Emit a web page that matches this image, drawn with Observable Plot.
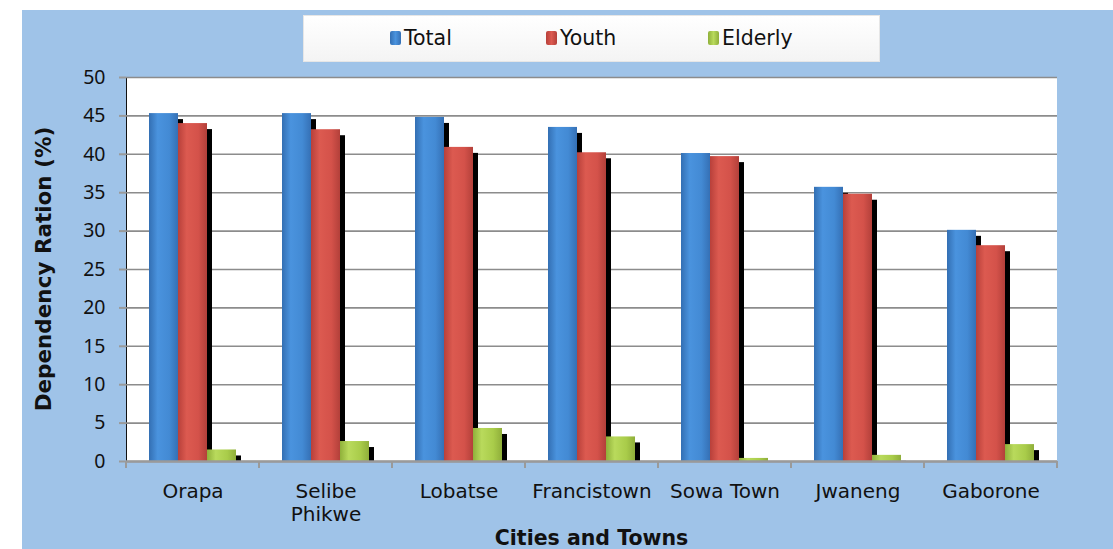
<!DOCTYPE html>
<html>
<head>
<meta charset="utf-8">
<script src="https://cdn.jsdelivr.net/npm/d3@7"></script>
<script src="https://cdn.jsdelivr.net/npm/@observablehq/plot@0.6"></script>
<style>
  html, body { margin: 0; padding: 0; background: #ffffff; }
  #wrap { position: relative; width: 1113px; height: 549px; overflow: hidden; }
  #bg { position: absolute; left: 22px; top: 10px; right: 0; bottom: 0; background: #9fc3e8; }
  #chart { position: absolute; left: 0; top: 0; }
  #legend {
    position: absolute; left: 303px; top: 15px; width: 577px; height: 47px;
    background: linear-gradient(#ffffff, #f4f4f4); border: 1px solid #e6e6e6; box-sizing: border-box;
    font-family: "DejaVu Sans", sans-serif; font-size: 20.5px; color: #111;
  }
  .item { position: absolute; top: 10px; display: flex; align-items: center; }
  .sw { width: 11px; height: 14px; margin-right: 3px; border-radius: 2px; }
</style>
</head>
<body>
<div id="wrap">
  <div id="bg"></div>
  <div id="chart"></div>
  <div id="legend"></div>
</div>
<script>
const cities = ["Orapa", "Selibe Phikwe", "Lobatse", "Francistown", "Sowa Town", "Jwaneng", "Gaborone"];
const series = ["Total", "Youth", "Elderly"];
const totalValues   = [45.3, 45.3, 44.8, 43.5, 40.1, 35.7, 30.1];
const youthValues   = [44.0, 43.2, 40.9, 40.2, 39.7, 34.8, 28.1];
const elderlyValues = [1.5, 2.6, 4.3, 3.2, 0.4, 0.8, 2.2];
const yTicks = [0, 5, 10, 15, 20, 25, 30, 35, 40, 45, 50];

const rows = [];
cities.forEach((c, i) => {
  rows.push({city: c, series: "Total", value: totalValues[i]});
  rows.push({city: c, series: "Youth", value: youthValues[i]});
  rows.push({city: c, series: "Elderly", value: elderlyValues[i]});
});

const barMarks = [];
for (const s of series) {
  barMarks.push(Plot.barY(rows, {filter: d => d.series === s, x: "series", y: "value", fill: "#000", dx: 5, insetTop: 6}));
  barMarks.push(Plot.barY(rows, {filter: d => d.series === s, x: "series", y: "value", fill: `url(#grad${s})`}));
}

const plot = Plot.plot({
  width: 1113,
  height: 549,
  marginTop: 77,
  marginBottom: 88,
  marginLeft: 125,
  marginRight: 55,
  style: {background: "transparent", fontFamily: "DejaVu Sans, sans-serif", fontSize: "20px", color: "#111"},
  facet: {data: rows, x: "city"},
  fx: {domain: cities, padding: 0, label: null, tickSize: 0, tickPadding: 22,
       tickFormat: d => d === "Selibe Phikwe" ? "Selibe\nPhikwe" : d},
  x: {domain: series, paddingInner: 0, paddingOuter: 0.72, axis: null},
  y: {domain: [0, 50], ticks: yTicks, tickSize: 7, tickPadding: 14, label: null, line: true},
  marks: [
    Plot.ruleY(yTicks, {stroke: "#8c8c8c", strokeWidth: 1.6}),
    ...barMarks,
    Plot.ruleY([0], {stroke: "#9a9a9a", strokeWidth: 2.5})
  ]
});
document.getElementById("chart").appendChild(plot);

const svg = d3.select(plot);
const fx = plot.scale("fx");
const y = plot.scale("y");
const y0 = y.apply(0);
const yTop = y.apply(50);
const xLeft = fx.apply(cities[0]);
const xRight = fx.apply(cities[cities.length - 1]) + fx.bandwidth;

// white plot area behind the marks
svg.insert("rect", ":first-child")
  .attr("x", xLeft).attr("y", yTop).attr("width", xRight - xLeft).attr("height", y0 - yTop).attr("fill", "white");

// gradients
const defs = svg.insert("defs", ":first-child");
const gstops = {
  Total: ["#336fb3", "#4a93de", "#438ad4", "#3570b5"],
  Youth: ["#b8403a", "#dc5a50", "#d4524a", "#b3403a"],
  Elderly: ["#8fb03a", "#b9da5c", "#a9cc4a", "#8fae3a"]
};
for (const s of series) {
  const g = defs.append("linearGradient").attr("id", `grad${s}`).attr("x1", 0).attr("x2", 1).attr("y1", 0).attr("y2", 0);
  const st = gstops[s];
  [[0, st[0]], [0.3, st[1]], [0.7, st[2]], [1, st[3]]].forEach(([o, c]) => g.append("stop").attr("offset", o).attr("stop-color", c));
}

// axis styling
svg.selectAll('[aria-label^="y-axis"] text').style("font-family", "Noto Sans, sans-serif").style("font-size", "19.5px").attr("fill", "#111");
svg.selectAll('[aria-label^="y-axis"] line, [aria-label^="y-axis"] path').attr("stroke", "#9a9a9a").attr("stroke-width", 2);
svg.selectAll('[aria-label^="fx-axis"] text').style("font-family", "DejaVu Sans, sans-serif").style("font-size", "20px").attr("fill", "#111");
svg.selectAll('[aria-label^="fx-axis"] tspan').attr("dy", function(d, i) { return this.getAttribute("dy") === "1em" ? "1.15em" : this.getAttribute("dy"); });

// category boundary ticks on the x axis
const bounds = cities.map(c => fx.apply(c)).concat([xRight]);
svg.append("g").selectAll("line").data(bounds).join("line")
  .attr("x1", d => d).attr("x2", d => d).attr("y1", y0).attr("y2", y0 + 7)
  .attr("stroke", "#9a9a9a").attr("stroke-width", 2);

// axis titles
svg.append("text").attr("transform", `translate(51,${(y0 + yTop) / 2}) rotate(-90)`)
  .attr("text-anchor", "middle").style("font-family", "DejaVu Sans, sans-serif").style("font-size", "21.5px").style("font-weight", "bold").attr("fill", "#111")
  .text("Dependency Ration (%)");
svg.append("text").attr("x", (xLeft + xRight) / 2).attr("y", 545)
  .attr("text-anchor", "middle").style("font-family", "DejaVu Sans, sans-serif").style("font-size", "20.5px").style("font-weight", "bold").attr("fill", "#111")
  .text("Cities and Towns");

// legend
const legend = d3.select("#legend");
const legendX = {Total: 86, Youth: 242, Elderly: 404};
for (const s of series) {
  const it = legend.append("div").attr("class", "item").style("left", legendX[s] + "px");
  it.append("div").attr("class", "sw").style("background", `linear-gradient(90deg, ${gstops[s][0]}, ${gstops[s][1]}, ${gstops[s][3]})`);
  it.append("span").text(s);
}
</script>
</body>
</html>
